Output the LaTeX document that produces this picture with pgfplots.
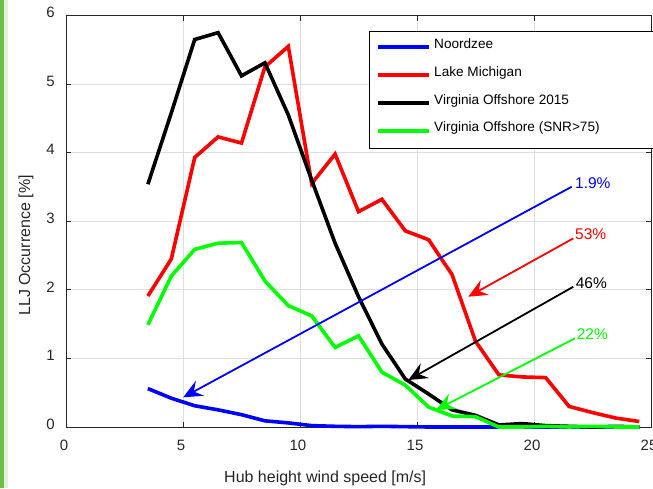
\documentclass[border=0pt]{standalone}
\usepackage{fontspec}
\setmainfont{Liberation Sans}
\usepackage{pgfplots}
\pgfplotsset{compat=1.18}
\usetikzlibrary{arrows.meta}

\definecolor{axgray}{RGB}{38,38,38}
\definecolor{gridgray}{RGB}{222,222,222}
\definecolor{mblue}{RGB}{0,0,255}
\definecolor{mred}{RGB}{255,0,0}
\definecolor{mgreen}{RGB}{0,255,0}
\definecolor{sidebar}{RGB}{108,190,69}
\definecolor{sidepale}{RGB}{226,240,220}

\begin{document}
\begin{tikzpicture}
\begin{axis}[
  at={(0,0)}, anchor=south west,
  scale only axis, width=585pt, height=411.5pt,
  xmin=0, xmax=25, ymin=0, ymax=6,
  xtick={0,5,...,25}, ytick={0,1,...,6},
  tick align=inside, major tick length=5pt,
  grid=major, major grid style={gridgray, line width=0.8pt},
  axis line style={axgray, line width=0.9pt},
  every tick/.style={axgray, line width=0.9pt},
  tick label style={font=\fontsize{15}{18}\selectfont, text=axgray},
  /pgf/number format/assume math mode=true,
  xticklabel style={anchor=north, inner sep=0pt, yshift=-13pt, xshift=-2pt},
  yticklabel style={anchor=east, inner sep=0pt, xshift=-11pt, yshift=3pt},
  xlabel={Hub height wind speed [m/s]},
  ylabel={LLJ Occurrence [\%]},
  label style={font=\fontsize{16}{19}\selectfont, text=axgray},
  xlabel style={at={(axis description cs:0.443,-0.136)}, anchor=base},
  ylabel style={at={(axis description cs:-0.0615,0.441)}, anchor=base},
  clip=false,
  legend style={draw=none, fill=none, at={(axis cs:13.248,5.668)},
    anchor=north west, inner sep=0pt, row sep=13.8pt, column sep=3pt,
    font=\fontsize{13.6}{16}\selectfont,
    nodes={inner sep=0pt, text height=10pt, text depth=4pt},
    cells={anchor=base west}},
  legend image code/.code={\draw[#1, line width=4pt] (0pt,1pt) -- (51pt,1pt);},
  every axis plot/.append style={line width=3.6pt},
]
\addplot[mblue] coordinates {
  (3.5,0.56)(4.5,0.42)(5.5,0.31)(6.5,0.25)(7.5,0.18)(8.5,0.09)(9.5,0.06)
  (10.5,0.02)(11.5,0.01)(12.5,0.005)(13.5,0.01)(14.5,0.005)(15.5,0)(16.5,0)
  (17.5,0)(18.5,0)(19.5,0)(20.5,0)(21.5,0)(22.5,0)(23.5,0)(24.5,0)};
\addlegendentry{Noordzee}
\addplot[mred] coordinates {
  (3.5,1.91)(4.5,2.45)(5.5,3.93)(6.5,4.23)(7.5,4.14)(8.5,5.25)(9.5,5.55)
  (10.5,3.55)(11.5,3.98)(12.5,3.14)(13.5,3.32)(14.5,2.86)(15.5,2.73)(16.5,2.22)
  (17.5,1.25)(18.5,0.76)(19.5,0.73)(20.5,0.72)(21.5,0.30)(22.5,0.21)(23.5,0.13)(24.5,0.08)};
\addlegendentry{Lake Michigan}
\addplot[black] coordinates {
  (3.5,3.54)(4.5,4.58)(5.5,5.65)(6.5,5.75)(7.5,5.12)(8.5,5.31)(9.5,4.55)
  (10.5,3.60)(11.5,2.68)(12.5,1.90)(13.5,1.21)(14.5,0.70)(15.5,0.48)(16.5,0.25)
  (17.5,0.17)(18.5,0.03)(19.5,0.05)(20.5,0.02)(21.5,0.01)(22.5,0)(23.5,0.01)(24.5,0)};
\addlegendentry{Virginia Offshore 2015}
\addplot[mgreen] coordinates {
  (3.5,1.49)(4.5,2.20)(5.5,2.59)(6.5,2.68)(7.5,2.69)(8.5,2.13)(9.5,1.77)
  (10.5,1.62)(11.5,1.16)(12.5,1.33)(13.5,0.80)(14.5,0.61)(15.5,0.29)(16.5,0.16)
  (17.5,0.15)(18.5,0)(19.5,0)(20.5,0.01)(21.5,0)(22.5,0.01)(23.5,0)(24.5,0)};
\addlegendentry{Virginia Offshore (SNR>75)}

% legend frame (extends past the cropped right edge)
\draw[black, line width=0.9pt, fill=white]
  (axis cs:12.949,4.068) rectangle (axis cs:27,5.774);

% annotation arrows
\tikzset{llj/.style={line width=1.8pt, -{Stealth[length=19pt, width=17pt, inset=7pt]}}}
\draw[llj, mblue] (axis cs:21.61,3.503) -- (axis cs:5.01,0.433);
\draw[llj, mred] (axis cs:21.68,2.75) -- (axis cs:17.19,1.90);
\draw[llj, black] (axis cs:21.68,2.045) -- (axis cs:14.63,0.685);
\draw[llj, mgreen] (axis cs:21.75,1.293) -- (axis cs:15.81,0.248);
\begin{scope}[font=\fontsize{15.5}{18}\selectfont]
\node[anchor=base west, inner sep=0pt, text=mblue] at (axis cs:21.75,3.484) {1.9\%};
\node[anchor=base west, inner sep=0pt, text=mred] at (axis cs:21.75,2.736) {53\%};
\node[anchor=base west, inner sep=0pt, text=black] at (axis cs:21.78,2.02) {46\%};
\node[anchor=base west, inner sep=0pt, text=mgreen] at (axis cs:21.82,1.283) {22\%};
\end{scope}
\end{axis}
\fill[sidebar] (-66pt,-61pt) rectangle (-61.5pt,427pt);
\fill[sidepale] (-61.5pt,-61pt) rectangle (-57.5pt,427pt);
\pgfresetboundingbox
\useasboundingbox (-66pt,-61pt) rectangle (587pt,427pt);
\end{tikzpicture}
\end{document}
